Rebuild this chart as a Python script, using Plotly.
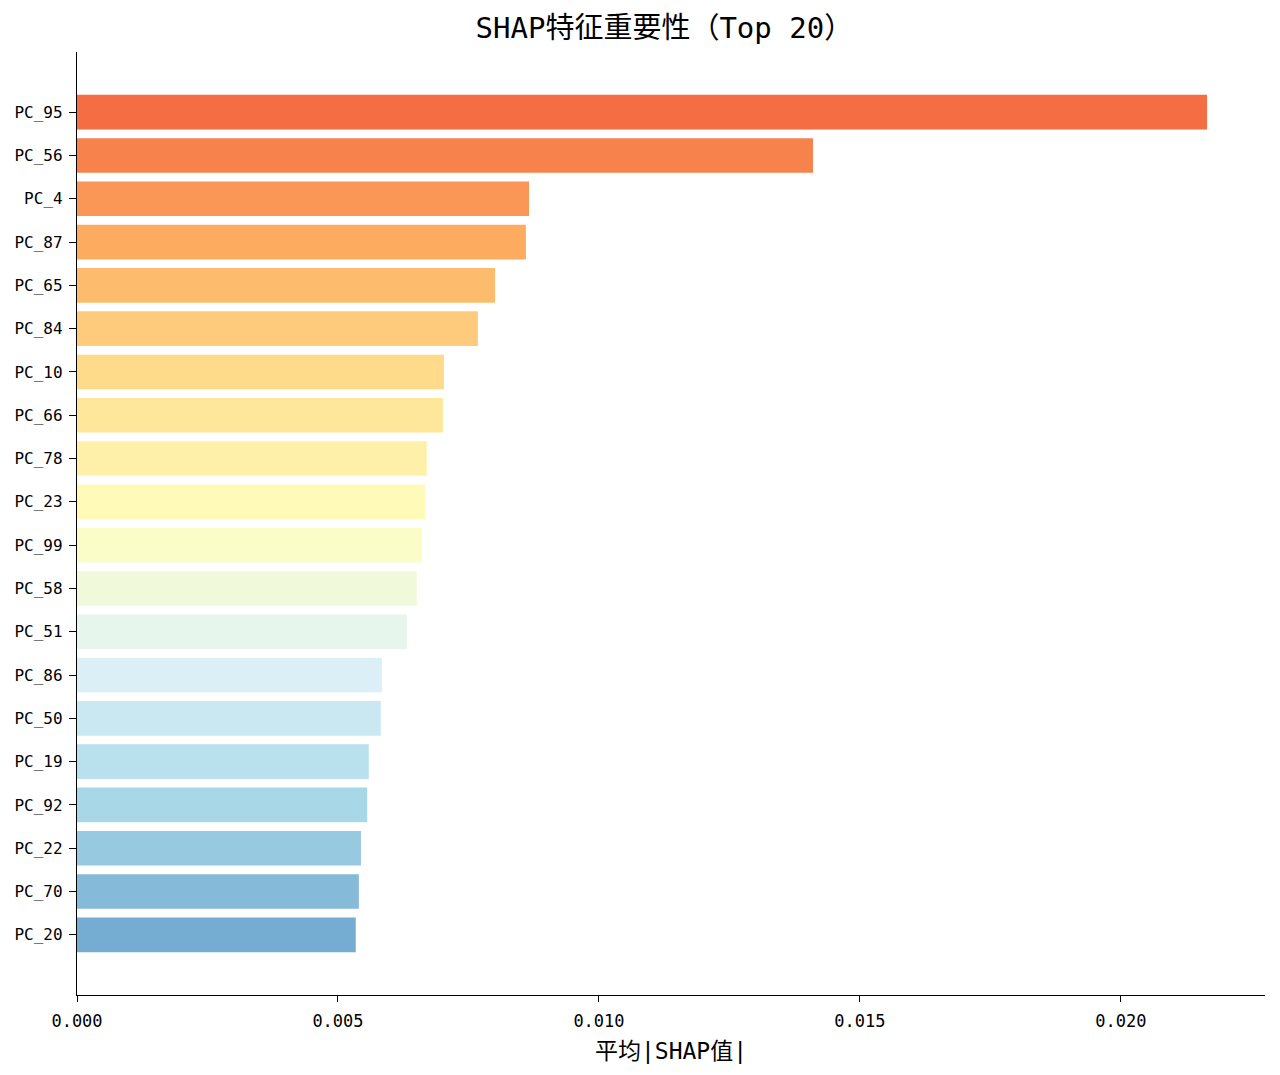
import numpy as np
import plotly.graph_objects as go
import plotly.colors as pc

# top 20 features by mean |SHAP|, listed top to bottom
features = ['PC_95', 'PC_56', 'PC_4', 'PC_87', 'PC_65', 'PC_84', 'PC_10', 'PC_66', 'PC_78', 'PC_23',
            'PC_99', 'PC_58', 'PC_51', 'PC_86', 'PC_50', 'PC_19', 'PC_92', 'PC_22', 'PC_70', 'PC_20']
shap_vals = [0.02165, 0.01410, 0.00866, 0.00860, 0.00801, 0.00768, 0.00703, 0.00701, 0.00670, 0.00667,
             0.00661, 0.00651, 0.00632, 0.00584, 0.00582, 0.00559, 0.00556, 0.00544, 0.00540, 0.00534]
xtick_vals = [0.0, 0.005, 0.010, 0.015, 0.020]
xtick_text = ['0.000', '0.005', '0.010', '0.015', '0.020']

# RdYlBu_r sampled 0.8 -> 0.2, like the matplotlib colormap
cscale = pc.make_colorscale(pc.diverging.RdYlBu_r)
colors = pc.sample_colorscale(cscale, list(np.linspace(0.8, 0.2, len(features))))

font_fam = 'DejaVu Sans Mono, Noto Sans CJK SC'

fig = go.Figure()
fig.add_trace(go.Bar(
    x=shap_vals,
    y=features,
    orientation='h',
    marker=dict(color=colors, line=dict(width=0)),
    showlegend=False,
))

# page body has an 8px margin, so size/margins are trimmed by 8
fig.update_layout(
    width=1272,
    height=1067,
    margin=dict(l=69, r=15, t=44, b=80, autoexpand=False),
    plot_bgcolor='white',
    paper_bgcolor='white',
    bargap=0.2,
    font=dict(family=font_fam, color='black', size=16),
    title=dict(text='SHAP特征重要性（Top 20）', xref='container', x=0.516, xanchor='center',
               yref='container', y=0.981, yanchor='middle',
               font=dict(size=29, family=font_fam, color='black')),
)

fig.update_xaxes(
    range=[0, 0.02276],
    tickvals=xtick_vals,
    ticktext=xtick_text,
    showgrid=False,
    zeroline=False,
    showline=True,
    linecolor='black',
    linewidth=1.3,
    ticks='outside',
    ticklen=6,
    tickwidth=1.3,
    tickcolor='black',
    tickfont=dict(size=17),
    ticklabelstandoff=4,
    automargin=False,
    title=dict(text='平均|SHAP值|', font=dict(size=23, family=font_fam), standoff=13),
)
fig.update_yaxes(
    type='category',
    categoryorder='array',
    categoryarray=features,
    range=[20.39, -1.39],
    showgrid=False,
    zeroline=False,
    showline=True,
    linecolor='black',
    linewidth=1.3,
    ticks='outside',
    ticklen=7,
    tickwidth=1.3,
    tickcolor='black',
    tickfont=dict(size=16),
    ticklabelstandoff=3,
    automargin=False,
)

fig.write_html("out.html")
